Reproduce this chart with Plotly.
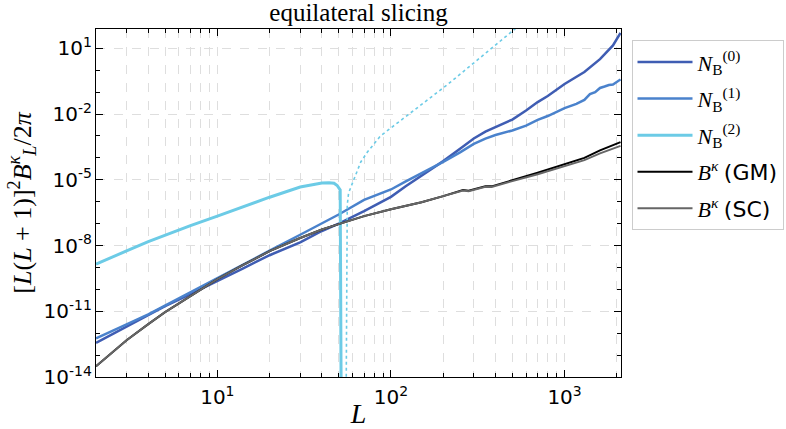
import plotly.graph_objects as go

# Multipole values for each curve
L_SC = [2, 2.5, 3, 4, 5, 7, 10, 14, 20, 30, 40, 50, 70, 100, 150, 200, 230, 260, 280, 320, 350, 380, 420, 500, 700,
        1000, 1300, 1600, 2100]
B_SC = [3.1e-14, 1.45e-13, 4.8e-13, 2.6e-12, 9.1e-12, 4.9e-11, 2.9e-10, 1.26e-9, 5.5e-9, 2.2e-8, 5.4e-8, 9.5e-8,
        2.2e-7, 4.5e-7, 9.5e-7, 1.8e-6, 2.4e-6, 3.2e-6, 3.0e-6, 3.8e-6, 4.8e-6, 4.7e-6, 6.0e-6, 8.7e-6, 1.8e-5,
        4.3e-5, 7.9e-5, 1.6e-4, 3.5e-4]

L_GM = L_SC
B_GM = [3.1e-14, 1.45e-13, 4.8e-13, 2.6e-12, 9.1e-12, 4.9e-11, 2.9e-10, 1.26e-9, 5.5e-9, 2.2e-8, 5.4e-8, 9.5e-8,
        2.2e-7, 4.5e-7, 9.5e-7, 1.8e-6, 2.5e-6, 3.4e-6, 3.2e-6, 4.1e-6, 5.1e-6, 5.0e-6, 6.5e-6, 9.5e-6, 2.1e-5,
        5.1e-5, 1.0e-4, 2.2e-4, 5.2e-4]

L_N0 = [2, 2.5, 3, 4, 5, 7, 10, 14, 20, 30, 40, 50, 70, 100, 121, 150, 200, 250, 300, 350, 400, 450, 500, 600, 700,
        800, 1000, 1300, 1600, 1900, 2050, 2100]
B_N0 = [3.6e-13, 9.3e-13, 1.9e-12, 6.9e-12, 1.7e-11, 6.0e-11, 2.3e-10, 8.9e-10, 3.6e-9, 1.4e-8, 4.6e-8, 1.0e-7,
        3.7e-7, 1.66e-6, 4.9e-6, 1.48e-5, 7.1e-5, 2.6e-4, 7.6e-4, 1.58e-3, 2.57e-3, 3.7e-3, 5.6e-3, 1.45e-2,
        3.5e-2, 6.6e-2, 0.234, 0.83, 3.2, 13.5, 33, 50]

L_N1 = [2, 2.5, 3, 4, 5, 7, 10, 14, 20, 30, 40, 50, 70, 100, 121, 150, 200, 250, 300, 350, 400, 500, 600, 700, 800,
        1000, 1170, 1300, 1400, 1500, 1600, 1700, 1800, 1900, 2000, 2050, 2100]
B_N1 = [5.8e-13, 1.26e-12, 2.5e-12, 7.2e-12, 1.8e-11, 7.4e-11, 3.2e-10, 1.3e-9, 5.8e-9, 3.1e-8, 1.0e-7, 2.6e-7,
        1.2e-6, 3.6e-6, 8.3e-6, 1.95e-5, 6.5e-5, 1.78e-4, 4.3e-4, 7.6e-4, 1.1e-3, 1.78e-3, 2.95e-3, 5.4e-3,
        8.1e-3, 1.86e-2, 2.9e-2, 4.4e-2, 8.1e-2, 0.10, 0.155, 0.18, 0.21, 0.22, 0.29, 0.34, 0.38]

# N_B^(2): positive branch, then sign change just above L = 51
L_N2 = [2, 2.5, 3, 4, 5, 7, 10, 14, 20, 30, 40, 44, 47, 49, 51, 52]
B_N2 = [1.4e-9, 3.1e-9, 5.7e-9, 1.5e-8, 3.0e-8, 8.1e-8, 2.2e-7, 5.9e-7, 1.6e-6, 4.7e-6, 7.1e-6, 7.4e-6, 6.9e-6,
        5.5e-6, 3.4e-6, 1e-20]

# |N_B^(2)| where it is negative (dotted)
L_N2_neg = [55, 56, 57, 59, 63, 67, 73, 87, 136, 213, 330, 519, 600]
B_N2_neg = [1e-17, 6.9e-7, 2.5e-6, 5.1e-6, 2.2e-5, 6.5e-5, 1.8e-4, 1.0e-3, 1.5e-2, 0.23, 4.0, 76, 200]

# Axis ticks
X_TICKS = [10, 100, 1000]
X_TICKTEXT = ["10<sup>1</sup>", "10<sup>2</sup>", "10<sup>3</sup>"]
X_MINOR = [3, 4, 5, 6, 7, 8, 9, 20, 30, 40, 50, 60, 70, 80, 90, 200, 300, 400, 500, 600, 700, 800, 900, 2000]
Y_TICKS = [1e-14, 1e-11, 1e-8, 1e-5, 1e-2, 1e1]
Y_TICKTEXT = ["10<sup>-14</sup>", "10<sup>-11</sup>", "10<sup>-8</sup>", "10<sup>-5</sup>", "10<sup>-2</sup>", "10<sup>1</sup>"]
Y_MINOR = [1e-13, 1e-12, 1e-10, 1e-9, 1e-7, 1e-6, 1e-4, 1e-3, 1e-1, 1e0]

C_N0 = "#3f5db3"
C_N1 = "#4a82cc"
C_N2 = "#6ccbe6"
C_GM = "#000000"
C_SC = "#666666"

SERIF = "Liberation Serif"
SANS = "DejaVu Sans"

fig = go.Figure()

fig.add_trace(go.Scatter(x=L_N0, y=B_N0, mode="lines", line=dict(color=C_N0, width=2.5), legendgroup="n0",
                         name="<i>N</i><sub>B</sub><sup>(0)</sup>"))
fig.add_trace(go.Scatter(x=L_N1, y=B_N1, mode="lines", line=dict(color=C_N1, width=2.5), legendgroup="n1",
                         name="<i>N</i><sub>B</sub><sup>(1)</sup>"))
fig.add_trace(go.Scatter(x=L_N2, y=B_N2, mode="lines", line=dict(color=C_N2, width=3), legendgroup="n2",
                         name="<i>N</i><sub>B</sub><sup>(2)</sup>"))
fig.add_trace(go.Scatter(x=L_N2_neg, y=B_N2_neg, mode="lines", line=dict(color=C_N2, width=1.6, dash="dot"),
                         legendgroup="n2", showlegend=False))
fig.add_trace(go.Scatter(x=L_GM, y=B_GM, mode="lines", line=dict(color=C_GM, width=2), legendgroup="gm",
                         name=f"<i>B</i><sup><i>κ</i></sup> <span style='font-family:{SANS}'>(GM)</span>"))
fig.add_trace(go.Scatter(x=L_SC, y=B_SC, mode="lines", line=dict(color=C_SC, width=2), legendgroup="sc",
                         name=f"<i>B</i><sup><i>κ</i></sup> <span style='font-family:{SANS}'>(SC)</span>"))

grid = "#dedede"
axis_common = dict(
    type="log", showline=True, linecolor="black", linewidth=1.3, mirror="allticks",
    ticks="inside", ticklen=7, tickwidth=1.2, tickcolor="black",
    showgrid=True, gridcolor=grid, gridwidth=1, griddash="dash",
    tickfont=dict(family=SANS, size=20, color="black"), zeroline=False,
)

fig.update_xaxes(
    **axis_common, range=[0.301, 3.325], tickmode="array", tickvals=X_TICKS, ticktext=X_TICKTEXT,
    ticklabelstandoff=2,
    minor=dict(tickmode="array", tickvals=X_MINOR, ticks="inside", ticklen=3.5, tickwidth=1, tickcolor="black",
               showgrid=True, gridcolor=grid, gridwidth=1, griddash="dash"),
    title=dict(text="<i>L</i>", font=dict(family=SERIF, size=28, color="black"), standoff=1),
)
fig.update_yaxes(
    **axis_common, range=[-14, 1.88], tickmode="array", tickvals=Y_TICKS, ticktext=Y_TICKTEXT,
    ticklabelstandoff=-1,
    minor=dict(tickmode="array", tickvals=Y_MINOR, ticks="inside", ticklen=3.5, tickwidth=1, tickcolor="black",
               showgrid=False),
    title=dict(text="[<i>L</i>(<i>L</i> + 1)]<sup>2</sup><i>B</i><sup><i>κ</i></sup><sub><i>L</i></sub>/2<i>π</i>",
               font=dict(family=SERIF, size=26, color="black"), standoff=4),
)

fig.update_layout(
    width=786, height=429,
    margin=dict(l=96, r=165, t=29, b=52, autoexpand=False),
    paper_bgcolor="white", plot_bgcolor="white",
    title=dict(text="equilateral slicing", x=0.5, xref="paper", xanchor="center",
               y=1, yref="paper", yanchor="bottom", pad=dict(b=8),
               font=dict(family=SERIF, size=25, color="black")),
    legend=dict(x=1.02, y=0.968, xanchor="left", yanchor="top", bgcolor="white",
                bordercolor="#cccccc", borderwidth=1, font=dict(family=SERIF, size=22, color="black"),
                itemwidth=55, tracegroupgap=5),
    showlegend=True,
)

fig.write_html("out.html")
